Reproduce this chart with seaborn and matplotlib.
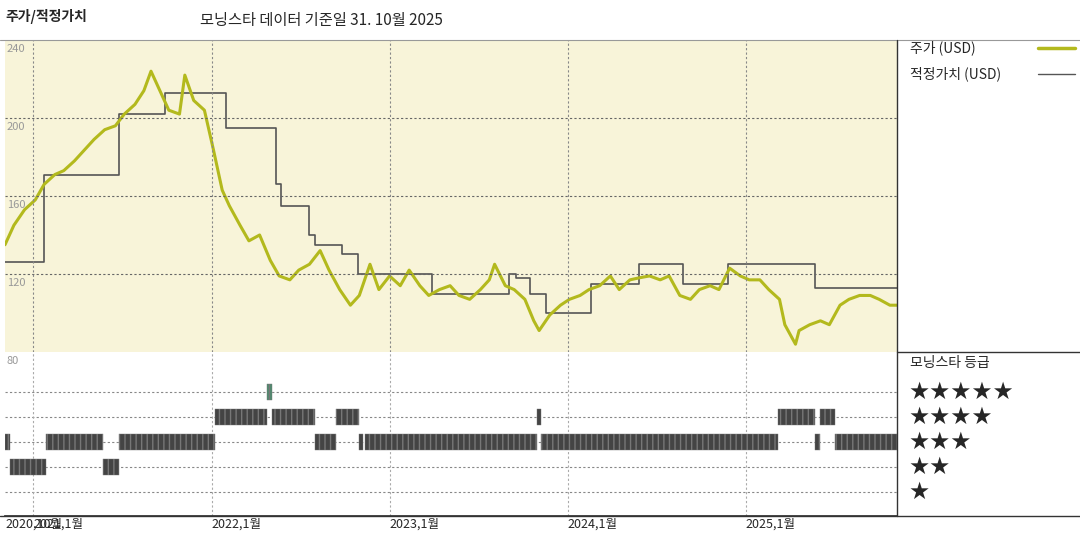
import matplotlib
matplotlib.use("Agg")
import matplotlib.pyplot as plt
import seaborn as sns
import pandas as pd

sns.set_theme(style="white")
plt.rcParams['font.family'] = ['Noto Sans CJK KR', 'DejaVu Sans']

# ---- data (decimal years) ----
price_years = [2020.84, 2020.89, 2020.95, 2021.01, 2021.06, 2021.12, 2021.17, 2021.23, 2021.29, 2021.34,
               2021.40, 2021.46, 2021.51, 2021.57, 2021.62, 2021.66, 2021.71, 2021.76, 2021.82, 2021.85,
               2021.90, 2021.96, 2022.01, 2022.06, 2022.10, 2022.16, 2022.21, 2022.27, 2022.33, 2022.38,
               2022.44, 2022.49, 2022.55, 2022.61, 2022.66, 2022.72, 2022.78, 2022.83, 2022.89, 2022.94,
               2023.00, 2023.06, 2023.11, 2023.17, 2023.22, 2023.28, 2023.34, 2023.39, 2023.45, 2023.51,
               2023.56, 2023.59, 2023.65, 2023.70, 2023.76, 2023.81, 2023.84, 2023.90, 2023.96, 2024.01,
               2024.07, 2024.12, 2024.18, 2024.24, 2024.29, 2024.35, 2024.40, 2024.46, 2024.52, 2024.57,
               2024.63, 2024.69, 2024.74, 2024.80, 2024.85, 2024.91, 2024.97, 2025.02, 2025.08, 2025.13,
               2025.19, 2025.22, 2025.28, 2025.30, 2025.36, 2025.42, 2025.47, 2025.53, 2025.58, 2025.64,
               2025.70, 2025.75, 2025.81, 2025.85]
price = [135, 145, 153, 158, 166, 171, 173, 178, 184, 189,
         194, 196, 202, 207, 214, 224, 214, 204, 202, 222,
         209, 204, 184, 163, 155, 145, 137, 140, 127, 119,
         117, 122, 125, 132, 122, 112, 104, 109, 125, 112,
         119, 114, 122, 114, 109, 112, 114, 109, 107, 112,
         117, 125, 114, 112, 107, 96, 91, 99, 104, 107,
         109, 112, 114, 119, 112, 117, 118, 119, 117, 119,
         109, 107, 112, 114, 112, 123, 119, 117, 117, 112,
         107, 94, 84, 91, 94, 96, 94, 104, 107, 109,
         109, 107, 104, 104]

fv_years = [2020.84, 2021.06, 2021.48, 2021.74, 2022.08, 2022.36, 2022.39, 2022.55, 2022.58, 2022.73,
            2022.82, 2023.24, 2023.67, 2023.71, 2023.79, 2023.88, 2024.13, 2024.40, 2024.65, 2024.90,
            2025.39, 2025.85]
fair_value = [126, 171, 202, 213, 195, 166, 155, 140, 135, 130,
              120, 110, 120, 118, 110, 100, 115, 125, 115, 125,
              113, 113]

rating_start = [2020.84, 2020.87, 2021.07, 2021.39, 2021.48, 2022.02, 2022.31, 2022.34, 2022.58, 2022.70,
                2022.83, 2022.86, 2023.83, 2023.85, 2025.18, 2025.39, 2025.42, 2025.50]
rating_end = [2020.87, 2021.07, 2021.39, 2021.48, 2022.02, 2022.31, 2022.34, 2022.58, 2022.70, 2022.83,
              2022.85, 2023.83, 2023.85, 2025.18, 2025.39, 2025.42, 2025.50, 2025.85]
rating_stars = [3, 2, 3, 2, 3, 4, 5, 4, 3, 4,
                3, 3, 4, 3, 4, 3, 4, 3]

year_ticks = [2020.84, 2021.0, 2022.0, 2023.0, 2024.0, 2025.0]
year_labels = ["2020,10월", "2021,1월", "2022,1월", "2023,1월", "2024,1월", "2025,1월"]
price_ticks = [240, 200, 160, 120]

olive = "#b3b91d"
grey = "#555555"
bg = "#f8f4d9"
xmin, xmax = 2020.84, 2025.85

fig = plt.figure(figsize=(10.8, 5.4), dpi=100)
W, H = 1080, 540
ax = fig.add_axes([5 / W, 1 - 352 / H, 892 / W, 312 / H])
ax2 = fig.add_axes([5 / W, 1 - 516 / H, 892 / W, 164 / H])

# ---- price panel ----
ax.set_facecolor(bg)
df_p = pd.DataFrame({"year": price_years, "price": price})
df_f = pd.DataFrame({"year": fv_years, "fv": fair_value})
sns.lineplot(data=df_f, x="year", y="fv", ax=ax, color=grey, lw=1.2, drawstyle="steps-post")
sns.lineplot(data=df_p, x="year", y="price", ax=ax, color=olive, lw=2.2)
ax.set_xlim(xmin, xmax)
ax.set_ylim(80, 240)
ax.set_xticks([]); ax.set_yticks([])
ax.set_xlabel(""); ax.set_ylabel("")
for t in price_ticks[1:]:
    ax.axhline(t, color="#666666", ls=(0, (2, 2)), lw=0.8)
for t in year_ticks[1:]:
    ax.axvline(t, color="#888888", ls=(0, (2, 2)), lw=0.8)
for t in price_ticks:
    ax.text(xmin + 0.01, t - 2, str(t), color="#999999", fontsize=8, va="top", ha="left")
for s in ax.spines.values():
    s.set_visible(False)

# ---- rating panel ----
ax2.set_facecolor("white")
bar_colors = ["#4e8a6e" if s == 5 else "#444444" for s in rating_stars]
ax2.barh(rating_stars, [e - s for s, e in zip(rating_start, rating_end)], left=rating_start,
         height=0.65, color=bar_colors, edgecolor="#777777", lw=0.3, hatch="|||")
ax2.set_xlim(xmin, xmax)
ax2.set_ylim(0.04, 6.6)
for r in [1, 2, 3, 4, 5]:
    ax2.axhline(r, color="#888888", ls=(0, (2, 2)), lw=0.8, zorder=0)
for t in year_ticks[1:]:
    ax2.axvline(t, color="#aaaaaa", ls=(0, (2, 2)), lw=0.8, zorder=0)
ax2.set_yticks([])
ax2.set_xticks(year_ticks)
ax2.set_xticklabels(year_labels, fontsize=9, ha="left")
ax2.tick_params(axis="x", length=0, pad=1)
ax2.text(xmin + 0.01, 6.45, "80", color="#999999", fontsize=8, va="top")
for k in ["top", "right", "left"]:
    ax2.spines[k].set_visible(False)
ax2.spines["bottom"].set_color("#333333")

# ---- frame lines and legend area ----
def fx(x): return x / W
def fy(y): return 1 - y / H
fig.add_artist(plt.Line2D([fx(0), fx(1080)], [fy(40), fy(40)], color="#999999", lw=0.8))
fig.add_artist(plt.Line2D([fx(0), fx(1080)], [fy(516), fy(516)], color="#333333", lw=1))
fig.add_artist(plt.Line2D([fx(897), fx(897)], [fy(40), fy(516)], color="#333333", lw=1))
fig.add_artist(plt.Line2D([fx(897), fx(1080)], [fy(352), fy(352)], color="#333333", lw=1))

fig.text(fx(5), fy(17), "주가/적정가치", fontsize=10, fontweight="bold", va="center")
fig.text(fx(200), fy(20), "모닝스타 데이터 기준일 31. 10월 2025", fontsize=11, va="center")
fig.text(fx(910), fy(48), "주가 (USD)", fontsize=10, va="center")
fig.add_artist(plt.Line2D([fx(1038), fx(1075)], [fy(48), fy(48)], color=olive, lw=2.5))
fig.text(fx(910), fy(74), "적정가치 (USD)", fontsize=10, va="center")
fig.add_artist(plt.Line2D([fx(1038), fx(1075)], [fy(74), fy(74)], color=grey, lw=1))
fig.text(fx(910), fy(363), "모닝스타 등급", fontsize=10, va="center")
for i, n in enumerate([5, 4, 3, 2, 1]):
    fig.text(fx(908), fy(392 + 25 * i), "★" * n, fontsize=17, va="center", family="DejaVu Sans")

fig.savefig("out.png", dpi=100)
